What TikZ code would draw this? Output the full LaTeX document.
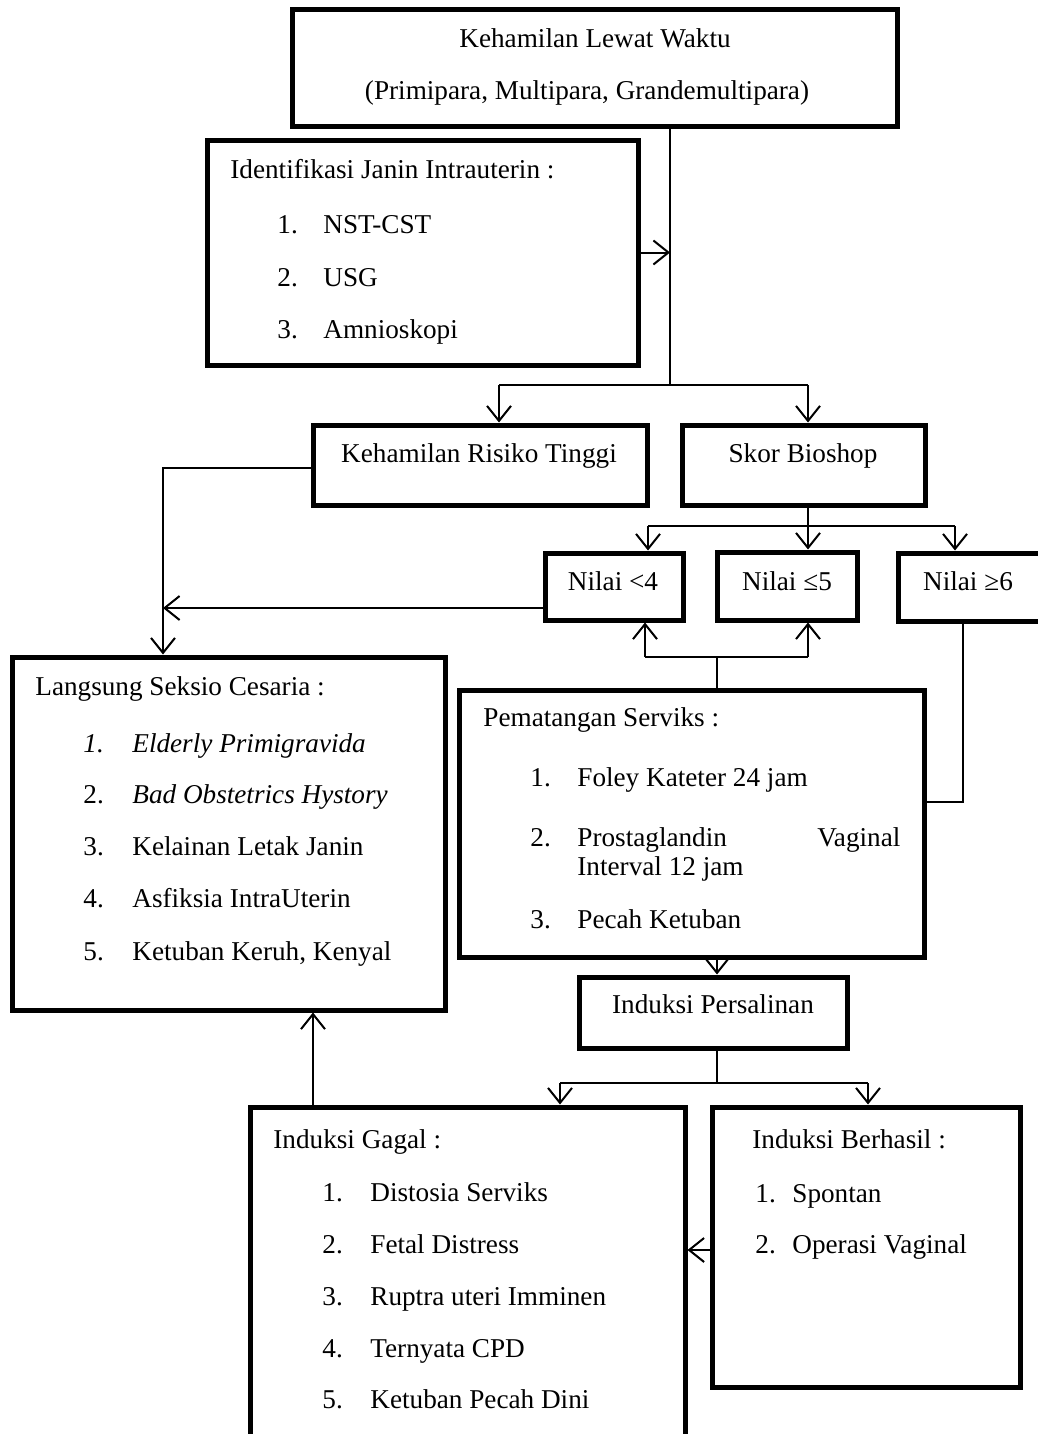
\documentclass[tikz,border=0pt]{standalone}
\usepackage{fontspec}
\setmainfont{Liberation Serif}
\usetikzlibrary{arrows.meta, fit, calc}
\tikzset{
    box/.style={draw, line width=2.5pt, inner sep=0pt},
    link/.style={line width=0.9pt},
    arr/.style={-{Straight Barb[length=7.5pt,width=12pt]}, line width=1pt}
}

\begin{document}
\begin{tikzpicture}[x=0.5pt, y=-0.5pt,
        lbl/.style={font=\fontsize{13.6}{16}\selectfont, inner sep=0pt, anchor=base west},
        ctr/.style={lbl, anchor=base}
    ]
        \useasboundingbox (0,0) rectangle (1038,1434);

        % Boxes
        \node[box, fit={(292,10) (897,127)}] (top) {};
        \node[box, fit={(207,140) (638,365)}] (ident) {};
        \node[box, fit={(313,425) (647,505)}] (risk) {};
        \node[box, fit={(682,425) (925,505)}] (skor) {};
        \node[box, fit={(545,553) (683,620)}] (n4) {};
        \node[box, fit={(717,552) (857,620)}] (n5) {};
        \node[box, fit={(898,553) (1045,621)}] (n6) {};
        \node[box, fit={(12,657) (445,1010)}] (langsung) {};
        \node[box, fit={(459,690) (924,957)}] (pemat) {};
        \node[box, fit={(579,977) (847,1048)}] (induksi) {};
        \node[box, fit={(250,1107) (685,1450)}] (gagal) {};
        \node[box, fit={(712,1107) (1020,1387)}] (berhasil) {};

        % Top
        \node[ctr] (topa) at (595,48) {Kehamilan Lewat Waktu};
        \node[ctr] (topb) at (587,100) {(Primipara, Multipara, Grandemultipara)};

        % Identifikasi
        \node[lbl] (identt) at (230,178) {Identifikasi Janin Intrauterin :};
        \foreach \y/\t [count=\k] in {233/NST-CST, 286/USG, 338/Amnioskopi}
            \node[lbl] (ident\k) at (277,\y) {\makebox[23pt][l]{\k.}\t};

        % Single line boxes
        \node[ctr] (riskt) at (479,462) {Kehamilan Risiko Tinggi};
        \node[ctr] (skort) at (803,462) {Skor Bioshop};
        \node[ctr] (n4t) at (613,590) {Nilai <4};
        \node[ctr] (n5t) at (787,590) {Nilai ≤5};
        \node[ctr] (n6t) at (968,590) {Nilai ≥6};
        \node[ctr] (induksit) at (713,1013) {Induksi Persalinan};

        % Langsung Seksio Cesaria
        \node[lbl] (langsungt) at (35,695) {Langsung Seksio Cesaria :};
        \node[lbl] (ls1) at (83,752) {\itshape\makebox[24.5pt][l]{1.}Elderly Primigravida};
        \node[lbl] (ls2) at (83,803) {\makebox[24.5pt][l]{2.}\itshape Bad Obstetrics Hystory};
        \foreach \n/\y/\t in {3/855/Kelainan Letak Janin, 4/907/Asfiksia IntraUterin, 5/960/{Ketuban Keruh, Kenyal}}
            \node[lbl] (ls\n) at (83,\y) {\makebox[24.5pt][l]{\n.}\t};

        % Pematangan Serviks
        \node[lbl] (pematt) at (483,726) {Pematangan Serviks :};
        \node[lbl] (pm1) at (530,786) {\makebox[23.5pt][l]{1.}Foley Kateter 24 jam};
        \node[lbl] (pm2) at (530,846) {2.};
        \node[lbl, text width=161.5pt] (pm2a) at (577,846) {Prostaglandin\hfill Vaginal};
        \node[lbl] (pm2b) at (577,875) {Interval 12 jam};
        \node[lbl] (pm3) at (530,928) {\makebox[23.5pt][l]{3.}Pecah Ketuban};

        % Induksi Gagal
        \node[lbl] (gagalt) at (273,1148) {Induksi Gagal :};
        \foreach \y/\t [count=\k] in {1201/Distosia Serviks, 1253/Fetal Distress, 1305/Ruptra uteri Imminen, 1357/Ternyata CPD, 1408/Ketuban Pecah Dini}
            \node[lbl] (gg\k) at (322,\y) {\makebox[24pt][l]{\k.}\t};

        % Induksi Berhasil
        \node[lbl] (berhasilt) at (752,1148) {Induksi Berhasil :};
        \foreach \y/\t [count=\k] in {1202/Spontan, 1253/Operasi Vaginal}
            \node[lbl] (bh\k) at (755,\y) {\makebox[18.5pt][l]{\k.}\t};

        % Junctions
        \coordinate (j1) at (670,385);
        \coordinate (kr) at (499,385);
        \coordinate (ks) at (808,385);
        \coordinate (lc) at (163,468);
        \coordinate (ln) at (163,608);
        \coordinate (b4) at (648,526);
        \coordinate (b5) at (808,526);
        \coordinate (b6) at (955,526);
        \coordinate (p4) at (645,657);
        \coordinate (pm) at (717,657);
        \coordinate (p5) at (808,657);
        \coordinate (q6) at (963,802);
        \coordinate (ig) at (560,1083);
        \coordinate (im) at (717,1083);
        \coordinate (ib) at (868,1083);
        \coordinate (hb) at (0,1250);
        \coordinate (gl) at (313,0);

        % Connectors
        \draw[link] (top.south -| j1) -- (j1);
        \draw[arr] (ident.east) -- (ident.east -| j1);
        \draw[link] (kr) -- (ks);
        \draw[arr] (kr) -- (kr |- risk.north);
        \draw[arr] (ks) -- (ks |- skor.north);

        \draw[arr] (risk.west |- lc) -- (lc) -- (lc |- langsung.north);
        \draw[arr] (n4.west |- ln) -- (ln);

        \draw[link] (skor.south -| b5) -- (b5);
        \draw[link] (b4) -- (b6);
        \foreach \b/\n in {b4/n4, b5/n5, b6/n6}
            \draw[arr] (\b) -- (\b |- \n.north);

        \draw[link] (pemat.north -| pm) -- (pm);
        \draw[link] (p4) -- (p5);
        \draw[arr] (p4) -- (p4 |- n4.south);
        \draw[arr] (p5) -- (p5 |- n5.south);
        \draw[link] (n6.south -| q6) -- (q6) -- (q6 -| pemat.east);

        \draw[arr] (pemat.south -| pm) -- (pm |- induksi.north);
        \draw[link] (induksi.south -| im) -- (im);
        \draw[link] (ig) -- (ib);
        \draw[arr] (ig) -- (ig |- gagal.north);
        \draw[arr] (ib) -- (ib |- berhasil.north);

        \draw[arr] (berhasil.west |- hb) -- (gagal.east |- hb);
        \draw[arr] (gagal.north -| gl) -- (gl |- langsung.south);

    \end{tikzpicture}
\end{document}
